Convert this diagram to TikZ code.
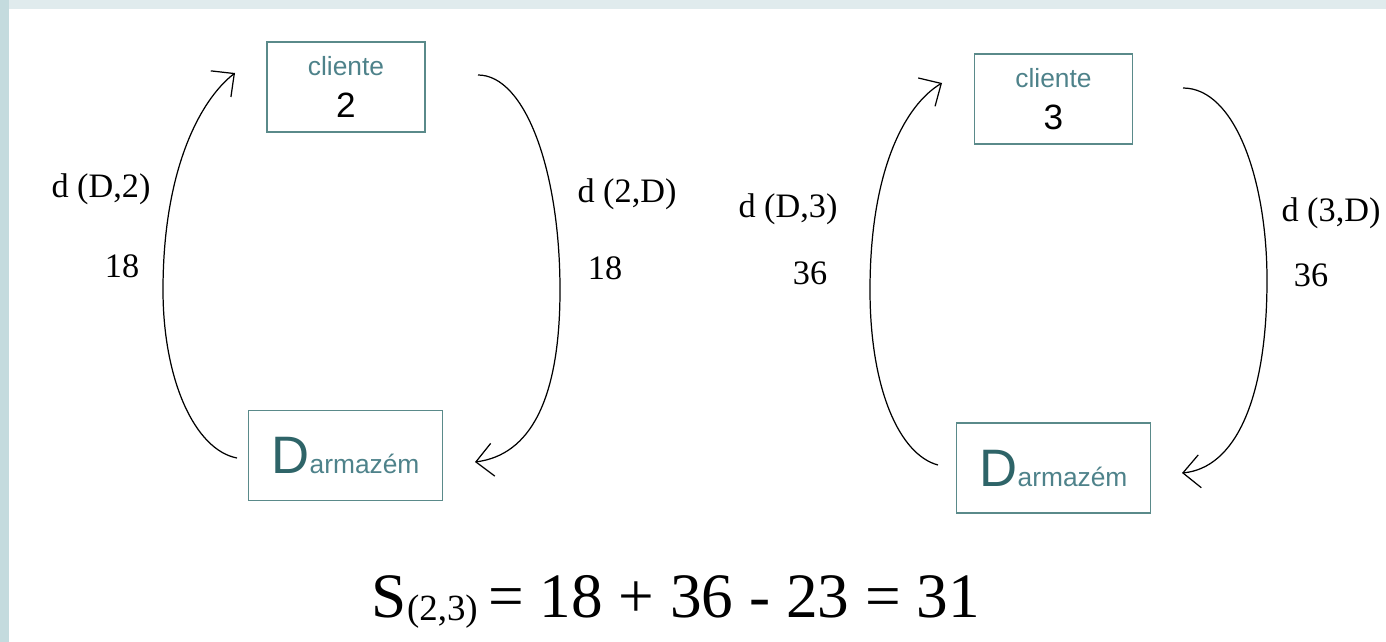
\documentclass[tikz,border=0pt]{standalone}
\usepackage{fontspec}
\setmainfont{Liberation Serif}
\newfontfamily\arialfont{Liberation Sans}
\usetikzlibrary{arrows.meta}
\definecolor{boxline}{RGB}{90,138,138}
\definecolor{boxtext}{RGB}{78,130,138}
\definecolor{dtext}{RGB}{46,100,104}
\definecolor{stripleft}{RGB}{196,219,222}
\definecolor{striptop}{RGB}{224,235,237}

\begin{document}
\begin{tikzpicture}[x=0.02cm, y=-0.02cm,
	caixa/.style={draw=boxline, line width=1.1pt, inner sep=0pt, align=center},
	cliente/.style={caixa, minimum width=3.16cm, minimum height=1.8cm,
		font=\arialfont\fontsize{20}{24}\selectfont},
	armazem/.style={caixa, minimum width=3.88cm, minimum height=1.8cm,
		font=\arialfont},
	seta/.style={line width=0.7pt, -{Straight Barb[length=0.34cm, width=0.66cm]}},
	rotulo/.style={font=\fontsize{19.5}{21}\selectfont}]
	\useasboundingbox (0,0) rectangle (1386,642);
	\fill [stripleft] (0,0) rectangle (9,642);
	\fill [striptop] (9,0) rectangle (1386,9);

	% caixas
	\node (cli2) [cliente] at (346,87)
		{{\fontsize{15}{18}\selectfont\color{boxtext}cliente}\\2};
	\node (arm2) [armazem] at (345.5,455.5)
		{{\fontsize{30}{30}\selectfont\color{dtext}D}{\fontsize{15}{15}\selectfont\color{boxtext}armazém}};
	\node (cli3) [cliente] at (1053.5,99)
		{{\fontsize{15}{18}\selectfont\color{boxtext}cliente}\\3};
	\node (arm3) [armazem] at (1053.5,468)
		{{\fontsize{30}{30}\selectfont\color{dtext}D}{\fontsize{15}{15}\selectfont\color{boxtext}armazém}};

	% pontas dos arcos
	\coordinate (ida2) at (237,458);
	\coordinate (chega2) at (235,73);
	\coordinate (sai2) at (478,75);
	\coordinate (volta2) at (475,462);
	\coordinate (ida3) at (938,465);
	\coordinate (chega3) at (942,83);
	\coordinate (sai3) at (1183,88);
	\coordinate (volta3) at (1182,473);

	\draw [seta] (ida2) .. controls (195,450) and (163,380) .. (163,290)
		.. controls (163,170) and (200,100) .. (chega2);
	\draw [seta] (sai2) .. controls (525,75) and (560,170) .. (560,290)
		.. controls (560,400) and (530,455) .. (volta2);
	\draw [seta] (ida3) .. controls (900,455) and (870,390) .. (870,290)
		.. controls (870,170) and (905,105) .. (chega3);
	\draw [seta] (sai3) .. controls (1235,88) and (1267,180) .. (1267,280)
		.. controls (1267,400) and (1235,468) .. (volta3);

	% distancias
	\node (dD2) [rotulo] at (101,189) {d (D,2)};
	\node (v18a) [rotulo] at (122,266) {18};
	\node (d2D) [rotulo] at (627,194) {d (2,D)};
	\node (v18b) [rotulo] at (605,268) {18};
	\node (dD3) [rotulo] at (788,209) {d (D,3)};
	\node (v36a) [rotulo] at (810,273) {36};
	\node (d3D) [rotulo] at (1331,213) {d (3,D)};
	\node (v36b) [rotulo] at (1311,275) {36};

	\node (poupanca) [anchor=base, font=\fontsize{36}{40}\selectfont] at (676,617)
		{S\raisebox{-2pt}{\fontsize{21}{21}\selectfont(2,3)}\,= 18 + 36 - 23 = 31};
\end{tikzpicture}
\end{document}
